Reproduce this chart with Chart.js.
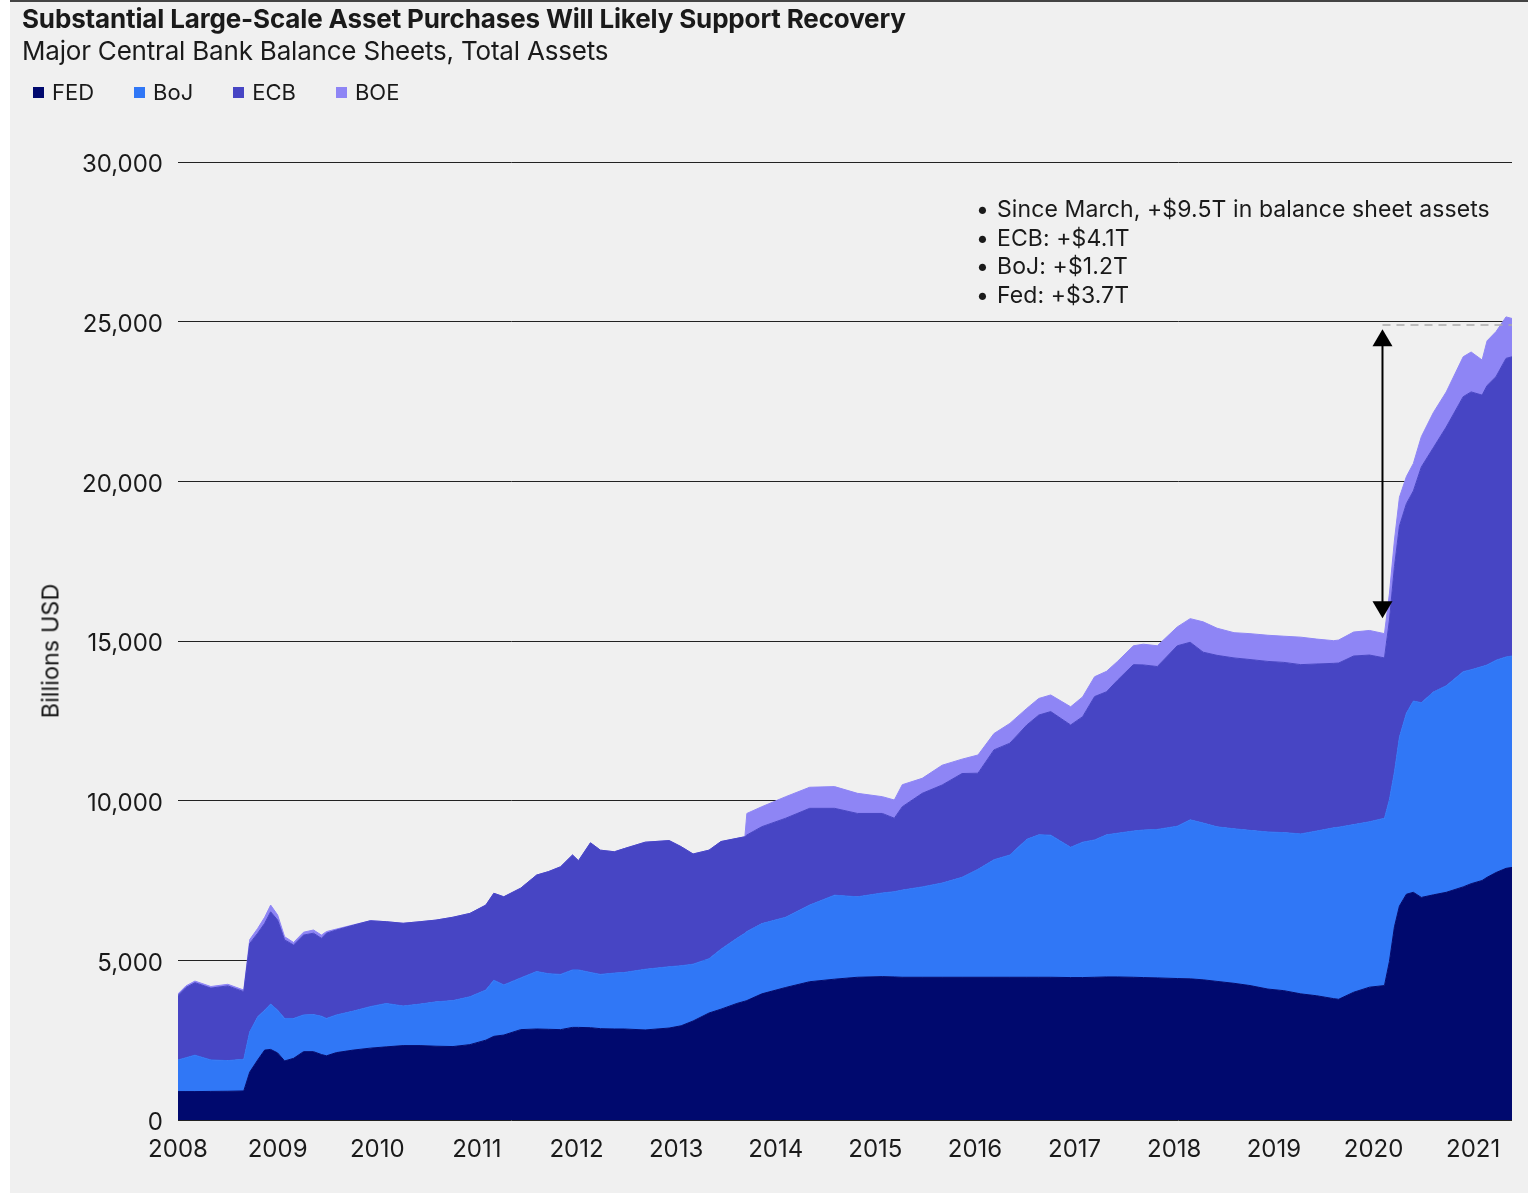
<!DOCTYPE html>
<html>
<head>
<meta charset="utf-8">
<script src="https://cdn.jsdelivr.net/npm/chart.js@4.4.1/dist/chart.umd.min.js"></script>
<style>
  html, body { margin: 0; padding: 0; background: #fff; }
  body { width: 1528px; height: 1195px; position: relative; overflow: hidden;
         font-family: Inter, "Noto Sans", sans-serif; color: #1a1a1a; }
  #panel { position: absolute; left: 10px; top: 0; width: 1518px; height: 1193px;
           background: #f0f0f0; border-top: 2px solid #444; box-sizing: border-box; }
  #chart { position: absolute; left: 0; top: 0; }
  .title { position: absolute; left: 22px; top: 3px; font-weight: 700; font-size: 26px;
           letter-spacing: -0.15px; white-space: nowrap; }
  .subtitle { position: absolute; left: 22px; top: 35px; font-size: 26px;
              letter-spacing: -0.2px; white-space: nowrap; }
  .legend { position: absolute; left: 33px; top: 79px; display: flex; gap: 40px; font-size: 22px; }
  .legend span { display: flex; align-items: center; }
  .legend i { display: inline-block; width: 11px; height: 11px; margin-right: 8px; }
  .note { position: absolute; left: 976px; top: 195px; font-size: 23px; line-height: 28.5px;
          letter-spacing: 0.1px; }
  .note div { white-space: nowrap; }
  .note b { display: inline-block; width: 21px; font-weight: 400; }
  .ytitle { position: absolute; left: 50px; top: 651px; font-size: 23.5px; white-space: nowrap;
            transform: translate(-50%, -50%) rotate(-90deg); }
</style>
</head>
<body>
<div id="panel"></div>
<canvas id="chart" width="1528" height="1195"></canvas>
<div class="title">Substantial Large-Scale Asset Purchases Will Likely Support Recovery</div>
<div class="subtitle">Major Central Bank Balance Sheets, Total Assets</div>
<div class="legend" id="legend"></div>
<div class="ytitle">Billions USD</div>
<div class="note">
  <div><b>•</b>Since March, +$9.5T in balance sheet assets</div>
  <div><b>•</b>ECB: +$4.1T</div>
  <div><b>•</b>BoJ: +$1.2T</div>
  <div><b>•</b>Fed: +$3.7T</div>
</div>
<script>
// dates as decimal years, values in billions USD (each bank, stacked)
const dates = [
  2008.00, 2008.08, 2008.17, 2008.33, 2008.50, 2008.66, 2008.72, 2008.80, 2008.87, 2008.93,
  2009.00, 2009.07, 2009.16, 2009.26, 2009.36, 2009.44, 2009.49, 2009.59, 2009.76, 2009.93,
  2010.09, 2010.26, 2010.43, 2010.59, 2010.76, 2010.93, 2011.09, 2011.17, 2011.27, 2011.44,
  2011.60, 2011.72, 2011.84, 2011.96, 2012.02, 2012.14, 2012.24, 2012.38, 2012.48, 2012.69,
  2012.93, 2013.05, 2013.17, 2013.33, 2013.45, 2013.61, 2013.69, 2013.71, 2013.86, 2014.10,
  2014.34, 2014.59, 2014.82, 2015.07, 2015.19, 2015.27, 2015.47, 2015.67, 2015.87, 2016.03,
  2016.19, 2016.35, 2016.52, 2016.64, 2016.76, 2016.96, 2017.08, 2017.20, 2017.32, 2017.43,
  2017.59, 2017.69, 2017.83, 2018.03, 2018.16, 2018.29, 2018.43, 2018.60, 2018.76, 2018.94,
  2019.10, 2019.27, 2019.43, 2019.60, 2019.65, 2019.80, 2019.96, 2020.11, 2020.16, 2020.21,
  2020.26, 2020.33, 2020.40, 2020.48, 2020.60, 2020.73, 2020.90, 2020.98, 2021.09, 2021.14,
  2021.23, 2021.33, 2021.39,
];
const fed = [
  890, 890, 890, 895, 900, 910, 1500, 1880, 2190, 2210,
  2100, 1850, 1930, 2140, 2140, 2050, 2010, 2110, 2190, 2250,
  2290, 2330, 2330, 2310, 2300, 2360, 2500, 2620, 2660, 2830,
  2850, 2840, 2830, 2900, 2900, 2890, 2860, 2850, 2850, 2820,
  2880, 2950, 3100, 3350, 3470, 3650, 3720, 3740, 3950, 4150,
  4330, 4410, 4470, 4490, 4480, 4470, 4470, 4470, 4470, 4470,
  4470, 4470, 4470, 4470, 4470, 4460, 4460, 4470, 4480, 4480,
  4470, 4460, 4450, 4430, 4420, 4390, 4340, 4280, 4210, 4100,
  4050, 3950, 3890, 3800, 3780, 4000, 4160, 4210, 4970, 6050,
  6700, 7070, 7130, 6970, 7050, 7130, 7300, 7400, 7500, 7600,
  7750, 7880, 7910,
];
const boj = [
  990, 1060, 1140, 985, 960, 990, 1260, 1350, 1250, 1420,
  1340, 1330, 1250, 1150, 1160, 1200, 1170, 1180, 1220, 1300,
  1360, 1240, 1300, 1390, 1440, 1500, 1570, 1760, 1570, 1620,
  1800, 1740, 1730, 1800, 1800, 1730, 1700, 1750, 1770, 1900,
  1920, 1880, 1780, 1700, 1880, 2040, 2130, 2160, 2200, 2200,
  2400, 2630, 2520, 2620, 2670, 2730, 2830, 2950, 3130, 3380,
  3680, 3830, 4320, 4460, 4450, 4080, 4240, 4300, 4450, 4500,
  4580, 4620, 4650, 4770, 4980, 4910, 4840, 4840, 4860, 4920,
  4950, 5010, 5160, 5350, 5390, 5250, 5180, 5240, 5070, 4850,
  5290, 5670, 5990, 6100, 6350, 6470, 6740, 6700, 6700, 6650,
  6650, 6620, 6620,
];
const ecb = [
  2020, 2200, 2270, 2250, 2340, 2120, 2770, 2620, 2720, 2890,
  2820, 2460, 2300, 2500, 2550, 2440, 2670, 2660, 2690, 2690,
  2560, 2590, 2580, 2560, 2610, 2610, 2660, 2720, 2760, 2810,
  3020, 3200, 3370, 3600, 3420, 4060, 3890, 3800, 3880, 3980,
  3950, 3730, 3450, 3400, 3370, 3130, 3020, 3025, 3035, 3100,
  3030, 2720, 2610, 2490, 2300, 2610, 2930, 3070, 3250, 3010,
  3440, 3500, 3580, 3750, 3870, 3830, 3930, 4490, 4480, 4790,
  5210, 5170, 5100, 5650, 5560, 5350, 5370, 5350, 5350, 5340,
  5330, 5300, 5230, 5150, 5140, 5280, 5220, 5020, 5620, 6430,
  6610, 6560, 6580, 7380, 7650, 8100, 8610, 8700, 8500, 8750,
  8880, 9350, 9370,
];
const boe = [
  50, 50, 50, 50, 50, 50, 120, 150, 190, 210,
  160, 100, 80, 90, 100, 100, 50, 30, 10, 0,
  0, 0, 0, 0, 0, 0, 0, 0, 0, 0,
  0, 0, 0, 0, 0, 0, 0, 0, 0, 0,
  0, 0, 0, 0, 0, 0, 0, 675, 625, 675,
  660, 680, 630, 525, 570, 690, 470, 620, 450, 570,
  510, 620, 520, 520, 520, 570, 620, 620, 640, 590,
  590, 650, 650, 590, 740, 950, 850, 790, 810, 820,
  820, 860, 780, 710, 720, 750, 770, 760, 840, 830,
  900, 850, 860, 950, 1100, 1100, 1250, 1250, 1100, 1400,
  1410, 1300, 1200,
];

const seriesNames = ["FED", "BoJ", "ECB", "BOE"];
const seriesValues = [fed, boj, ecb, boe];
const seriesColors = ["#00096e", "#3077f6", "#4745c4", "#8e85f5"];

const yTicks = { min: 0, max: 30000, step: 5000 };
const xRange = { min: 2008, max: 2021.39 };

// annotation: arrow since March 2020, dashed level line
const arrowX = 2020.09;
const arrowBottom = 15710;
const arrowTop = 24760;
const dashLevel = 24895;

// legend
const legendEl = document.getElementById("legend");
seriesNames.forEach((name, i) => {
  const s = document.createElement("span");
  s.innerHTML = '<i style="background:' + seriesColors[i] + '"></i>' + name;
  legendEl.appendChild(s);
});

const datasets = seriesNames.map((name, i) => ({
  label: name,
  data: dates.map((d, k) => ({ x: d, y: seriesValues[i][k] })),
  backgroundColor: seriesColors[i],
  borderColor: seriesColors[i],
  borderWidth: 1,
  pointRadius: 0,
  tension: 0,
  fill: i === 0 ? "origin" : "-1",
}));

const arrowPlugin = {
  id: "arrowNote",
  afterDatasetsDraw(chart) {
    const { ctx, chartArea } = chart;
    const x = chart.scales.x, y = chart.scales.y;
    const ax = x.getPixelForValue(arrowX);
    const yTop = y.getPixelForValue(arrowTop);
    const yBot = y.getPixelForValue(arrowBottom);
    const yDash = y.getPixelForValue(dashLevel);
    ctx.save();
    ctx.strokeStyle = "#aaaaaa";
    ctx.lineWidth = 1.5;
    ctx.setLineDash([8, 6]);
    ctx.beginPath();
    ctx.moveTo(ax, yDash);
    ctx.lineTo(chartArea.right, yDash);
    ctx.stroke();
    ctx.setLineDash([]);
    ctx.strokeStyle = "#000";
    ctx.fillStyle = "#000";
    ctx.lineWidth = 2;
    ctx.beginPath();
    ctx.moveTo(ax, yTop + 10);
    ctx.lineTo(ax, yBot - 10);
    ctx.stroke();
    ctx.beginPath();
    ctx.moveTo(ax, yTop);
    ctx.lineTo(ax - 10, yTop + 17);
    ctx.lineTo(ax + 10, yTop + 17);
    ctx.closePath();
    ctx.fill();
    ctx.beginPath();
    ctx.moveTo(ax, yBot);
    ctx.lineTo(ax - 10, yBot - 17);
    ctx.lineTo(ax + 10, yBot - 17);
    ctx.closePath();
    ctx.fill();
    ctx.restore();
  },
};

const ctx = document.getElementById("chart").getContext("2d");
new Chart(ctx, {
  type: "line",
  data: { datasets: datasets },
  plugins: [arrowPlugin],
  options: {
    responsive: false,
    animation: false,
    devicePixelRatio: 1,
    layout: { padding: { left: 37, top: 162, right: 16, bottom: 0 } },
    plugins: { legend: { display: false }, tooltip: { enabled: false } },
    scales: {
      x: {
        type: "linear",
        min: xRange.min,
        max: xRange.max,
        afterFit: (s) => { s.height = 75; },
        grid: { display: false },
        border: { display: false },
        ticks: {
          stepSize: 1,
          includeBounds: false,
          autoSkip: false,
          maxRotation: 0,
          padding: 7,
          color: "#1a1a1a",
          font: { family: "Inter", size: 24 },
          callback: (v) => String(v),
        },
      },
      y: {
        stacked: true,
        min: yTicks.min,
        max: yTicks.max,
        afterFit: (s) => { s.width = 141; },
        grid: { color: "#222", lineWidth: 1, drawTicks: false },
        border: { display: false },
        ticks: {
          stepSize: yTicks.step,
          padding: 15,
          labelOffset: 3,
          color: "#1a1a1a",
          font: { family: "Inter", size: 24 },
        },
      },
    },
  },
});
</script>
</body>
</html>
